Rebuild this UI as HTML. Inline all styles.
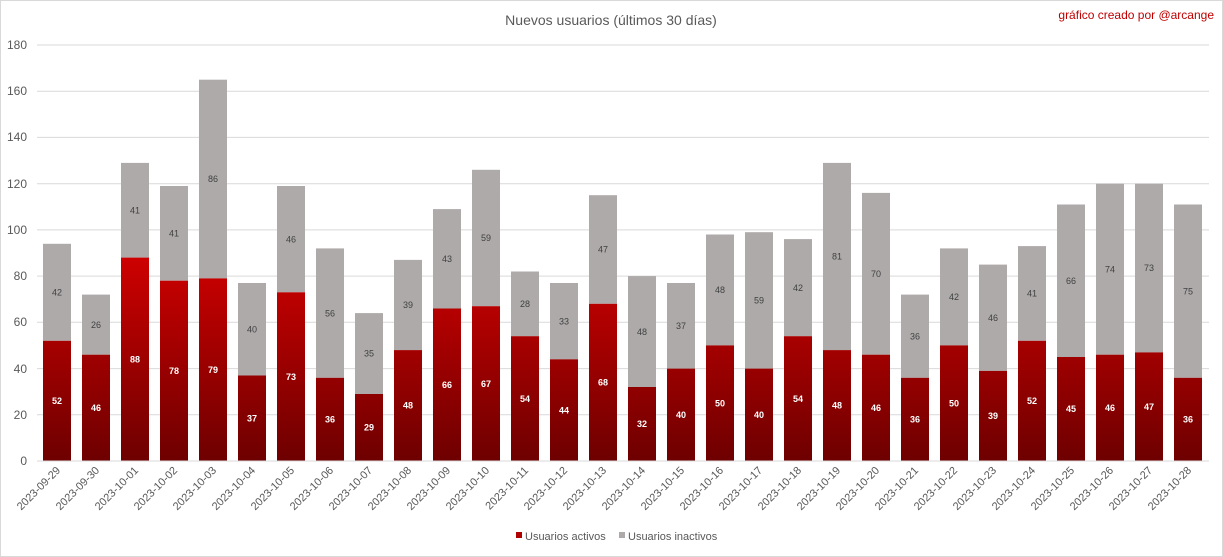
<!DOCTYPE html>
<html><head><meta charset="utf-8"><style>
html,body{margin:0;padding:0;background:#fff}
svg{display:block;font-family:"Liberation Sans",sans-serif}
</style></head><body>
<svg width="1223" height="557" viewBox="0 0 1223 557" xmlns="http://www.w3.org/2000/svg">
<defs>
<linearGradient id="rg" gradientUnits="userSpaceOnUse" x1="0" y1="461" x2="0" y2="260">
<stop offset="0" stop-color="#6e0000"/><stop offset="1" stop-color="#cc0000"/>
</linearGradient>
</defs>
<rect x="0.5" y="0.5" width="1222" height="556" fill="#fff" stroke="#d9d9d9"/>
<text x="611" y="25" text-anchor="middle" font-size="14" fill="#595959">Nuevos usuarios (últimos 30 días)</text>
<text x="1214" y="19" text-anchor="end" font-size="12" fill="#c00000">gráfico creado por @arcange</text>
<g stroke="#d9d9d9" stroke-width="1">
<line x1="37" x2="1209" y1="45" y2="45"/><line x1="37" x2="1209" y1="91.2" y2="91.2"/><line x1="37" x2="1209" y1="137.4" y2="137.4"/><line x1="37" x2="1209" y1="183.7" y2="183.7"/><line x1="37" x2="1209" y1="229.9" y2="229.9"/><line x1="37" x2="1209" y1="276.1" y2="276.1"/><line x1="37" x2="1209" y1="322.3" y2="322.3"/><line x1="37" x2="1209" y1="368.6" y2="368.6"/><line x1="37" x2="1209" y1="414.8" y2="414.8"/>
</g>
<g font-size="12" fill="#595959" text-anchor="end">
<text x="27" y="49">180</text><text x="27" y="95">160</text><text x="27" y="141">140</text><text x="27" y="188">120</text><text x="27" y="234">100</text><text x="27" y="280">80</text><text x="27" y="326">60</text><text x="27" y="373">40</text><text x="27" y="419">20</text><text x="27" y="465">0</text>
</g>
<g fill="#aeaaaa">
<rect x="43" y="243.8" width="28" height="97"/><rect x="82" y="294.6" width="28" height="60.1"/><rect x="121" y="162.9" width="28" height="94.7"/><rect x="160" y="186" width="28" height="94.7"/><rect x="199" y="79.7" width="28" height="198.7"/><rect x="238" y="283" width="28" height="92.5"/><rect x="277" y="186" width="28" height="106.3"/><rect x="316" y="248.4" width="28" height="129.4"/><rect x="355" y="313.1" width="28" height="80.9"/><rect x="394" y="259.9" width="28" height="90.2"/><rect x="433" y="209.1" width="28" height="99.4"/><rect x="472" y="169.8" width="28" height="136.4"/><rect x="511" y="271.5" width="28" height="64.7"/><rect x="550" y="283" width="28" height="76.3"/><rect x="589" y="195.2" width="28" height="108.6"/><rect x="628" y="276.1" width="28" height="110.9"/><rect x="667" y="283" width="28" height="85.6"/><rect x="706" y="234.5" width="28" height="110.9"/><rect x="745" y="232.2" width="28" height="136.4"/><rect x="784" y="239.1" width="28" height="97.1"/><rect x="823" y="162.9" width="28" height="187.2"/><rect x="862" y="192.9" width="28" height="161.8"/><rect x="901" y="294.6" width="28" height="83.2"/><rect x="940" y="248.4" width="28" height="97"/><rect x="979" y="264.6" width="28" height="106.3"/><rect x="1018" y="246.1" width="28" height="94.7"/><rect x="1057" y="204.5" width="28" height="152.5"/><rect x="1096" y="183.7" width="28" height="171"/><rect x="1135" y="183.7" width="28" height="168.7"/><rect x="1174" y="204.5" width="28" height="173.3"/>
</g>
<g fill="url(#rg)">
<rect x="43" y="340.8" width="28" height="120.2"/><rect x="82" y="354.7" width="28" height="106.3"/><rect x="121" y="257.6" width="28" height="203.4"/><rect x="160" y="280.7" width="28" height="180.3"/><rect x="199" y="278.4" width="28" height="182.6"/><rect x="238" y="375.5" width="28" height="85.5"/><rect x="277" y="292.3" width="28" height="168.7"/><rect x="316" y="377.8" width="28" height="83.2"/><rect x="355" y="394" width="28" height="67"/><rect x="394" y="350.1" width="28" height="110.9"/><rect x="433" y="308.5" width="28" height="152.5"/><rect x="472" y="306.2" width="28" height="154.8"/><rect x="511" y="336.2" width="28" height="124.8"/><rect x="550" y="359.3" width="28" height="101.7"/><rect x="589" y="303.8" width="28" height="157.2"/><rect x="628" y="387" width="28" height="74"/><rect x="667" y="368.6" width="28" height="92.4"/><rect x="706" y="345.4" width="28" height="115.6"/><rect x="745" y="368.6" width="28" height="92.4"/><rect x="784" y="336.2" width="28" height="124.8"/><rect x="823" y="350.1" width="28" height="110.9"/><rect x="862" y="354.7" width="28" height="106.3"/><rect x="901" y="377.8" width="28" height="83.2"/><rect x="940" y="345.4" width="28" height="115.6"/><rect x="979" y="370.9" width="28" height="90.1"/><rect x="1018" y="340.8" width="28" height="120.2"/><rect x="1057" y="357" width="28" height="104"/><rect x="1096" y="354.7" width="28" height="106.3"/><rect x="1135" y="352.4" width="28" height="108.6"/><rect x="1174" y="377.8" width="28" height="83.2"/>
</g>
<line x1="37" x2="1209" y1="461" y2="461" stroke="#d9d9d9"/>
<g font-size="9" fill="#404040" text-anchor="middle">
<text x="57" y="295.5">42</text><text x="96" y="327.8">26</text><text x="135" y="213.5">41</text><text x="174" y="236.6">41</text><text x="213" y="182.2">86</text><text x="252" y="332.5">40</text><text x="291" y="242.3">46</text><text x="330" y="316.3">56</text><text x="369" y="356.7">35</text><text x="408" y="308.2">39</text><text x="447" y="262">43</text><text x="486" y="241.2">59</text><text x="525" y="307">28</text><text x="564" y="324.4">33</text><text x="603" y="252.7">47</text><text x="642" y="334.8">48</text><text x="681" y="329">37</text><text x="720" y="293.2">48</text><text x="759" y="303.6">59</text><text x="798" y="290.9">42</text><text x="837" y="259.7">81</text><text x="876" y="277">70</text><text x="915" y="339.4">36</text><text x="954" y="300.1">42</text><text x="993" y="320.9">46</text><text x="1032" y="296.6">41</text><text x="1071" y="283.9">66</text><text x="1110" y="272.4">74</text><text x="1149" y="271.2">73</text><text x="1188" y="294.3">75</text>
</g>
<g font-size="9" font-weight="bold" fill="#fff" text-anchor="middle">
<text x="57" y="404.1">52</text><text x="96" y="411">46</text><text x="135" y="362.5">88</text><text x="174" y="374.1">78</text><text x="213" y="372.9">79</text><text x="252" y="421.4">37</text><text x="291" y="379.8">73</text><text x="330" y="422.6">36</text><text x="369" y="430.7">29</text><text x="408" y="408.7">48</text><text x="447" y="387.9">66</text><text x="486" y="386.8">67</text><text x="525" y="401.8">54</text><text x="564" y="413.4">44</text><text x="603" y="385.6">68</text><text x="642" y="427.2">32</text><text x="681" y="418">40</text><text x="720" y="406.4">50</text><text x="759" y="418">40</text><text x="798" y="401.8">54</text><text x="837" y="408.7">48</text><text x="876" y="411">46</text><text x="915" y="422.6">36</text><text x="954" y="406.4">50</text><text x="993" y="419.1">39</text><text x="1032" y="404.1">52</text><text x="1071" y="412.2">45</text><text x="1110" y="411">46</text><text x="1149" y="409.9">47</text><text x="1188" y="422.6">36</text>
</g>
<g font-size="11" fill="#595959" text-anchor="end">
<text transform="translate(61,471) rotate(-45)">2023-09-29</text><text transform="translate(100,471) rotate(-45)">2023-09-30</text><text transform="translate(139,471) rotate(-45)">2023-10-01</text><text transform="translate(178,471) rotate(-45)">2023-10-02</text><text transform="translate(217,471) rotate(-45)">2023-10-03</text><text transform="translate(256,471) rotate(-45)">2023-10-04</text><text transform="translate(295,471) rotate(-45)">2023-10-05</text><text transform="translate(334,471) rotate(-45)">2023-10-06</text><text transform="translate(373,471) rotate(-45)">2023-10-07</text><text transform="translate(412,471) rotate(-45)">2023-10-08</text><text transform="translate(451,471) rotate(-45)">2023-10-09</text><text transform="translate(490,471) rotate(-45)">2023-10-10</text><text transform="translate(529,471) rotate(-45)">2023-10-11</text><text transform="translate(568,471) rotate(-45)">2023-10-12</text><text transform="translate(607,471) rotate(-45)">2023-10-13</text><text transform="translate(646,471) rotate(-45)">2023-10-14</text><text transform="translate(685,471) rotate(-45)">2023-10-15</text><text transform="translate(724,471) rotate(-45)">2023-10-16</text><text transform="translate(763,471) rotate(-45)">2023-10-17</text><text transform="translate(802,471) rotate(-45)">2023-10-18</text><text transform="translate(841,471) rotate(-45)">2023-10-19</text><text transform="translate(880,471) rotate(-45)">2023-10-20</text><text transform="translate(919,471) rotate(-45)">2023-10-21</text><text transform="translate(958,471) rotate(-45)">2023-10-22</text><text transform="translate(997,471) rotate(-45)">2023-10-23</text><text transform="translate(1036,471) rotate(-45)">2023-10-24</text><text transform="translate(1075,471) rotate(-45)">2023-10-25</text><text transform="translate(1114,471) rotate(-45)">2023-10-26</text><text transform="translate(1153,471) rotate(-45)">2023-10-27</text><text transform="translate(1192,471) rotate(-45)">2023-10-28</text>
</g>
<rect x="516" y="532" width="6" height="6" fill="#b00000"/>
<text x="525" y="540" font-size="11" fill="#595959">Usuarios activos</text>
<rect x="619" y="532" width="6" height="6" fill="#aeaaaa"/>
<text x="628" y="540" font-size="11" fill="#595959">Usuarios inactivos</text>
</svg>
</body></html>
